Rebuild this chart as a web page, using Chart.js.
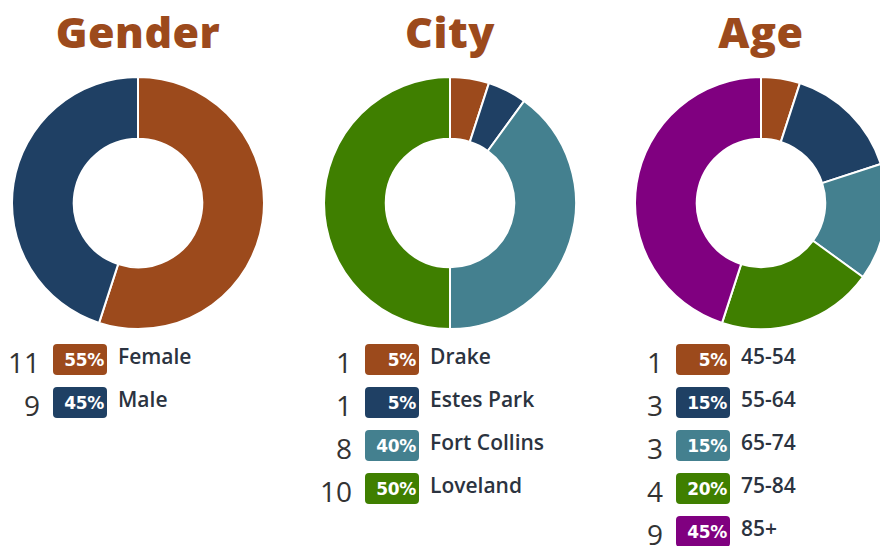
<!DOCTYPE html>
<html>
<head>
<meta charset="utf-8">
<script src="https://cdn.jsdelivr.net/npm/chart.js@4"></script>
<style>
  html, body { margin: 0; padding: 0; background: #fff; }
  body { width: 880px; height: 546px; overflow: hidden; position: relative; font-family: 'Open Sans', sans-serif; }
  .panel { position: absolute; top: 0; width: 311px; height: 546px; }
  .panel h2 {
    position: absolute; left: 0; width: 276px; top: 2px; margin: 0;
    text-align: center; font-size: 43px; font-weight: 800; color: #9c4a1c;
    letter-spacing: 0.5px;
  }
  .panel canvas { position: absolute; left: 11px; top: 76px; }
  .row { position: absolute; left: 0; height: 31px; }
  .count {
    position: absolute; left: 0; top: 3px; width: 40px; text-align: right;
    font-size: 28px; line-height: 31px; color: #333;
  }
  .badge {
    position: absolute; left: 53px; top: 0; width: 54px; height: 31px;
    border-radius: 4px; box-sizing: border-box; padding-right: 3px;
    text-align: right; color: #fff; font-family: 'DejaVu Sans', sans-serif;
    font-weight: 700; font-size: 17px; line-height: 32px; letter-spacing: -0.3px;
  }
  .label {
    position: absolute; left: 118px; top: -3px; white-space: nowrap;
    font-size: 21px; font-weight: 600; color: #2b3340; line-height: 31px;
  }
</style>
</head>
<body>

<script>
/* --- Data --- */
const COLORS = {
  brown: '#9c4a1c',
  navy: '#1f4064',
  teal: '#44808f',
  green: '#3f7f00',
  purple: '#800080',
};

const genderLabels = ['Female', 'Male'];
const genderCounts = [11, 9];
const genderColors = [COLORS.brown, COLORS.navy];

const cityLabels = ['Drake', 'Estes Park', 'Fort Collins', 'Loveland'];
const cityCounts = [1, 1, 8, 10];
const cityColors = [COLORS.brown, COLORS.navy, COLORS.teal, COLORS.green];

const ageLabels = ['45-54', '55-64', '65-74', '75-84', '85+'];
const ageCounts = [1, 3, 3, 4, 9];
const ageColors = [COLORS.brown, COLORS.navy, COLORS.teal, COLORS.green, COLORS.purple];

const panels = [
  { title: 'Gender', labels: genderLabels, counts: genderCounts, colors: genderColors, left: 0 },
  { title: 'City', labels: cityLabels, counts: cityCounts, colors: cityColors, left: 312 },
  { title: 'Age', labels: ageLabels, counts: ageCounts, colors: ageColors, left: 623 },
];

const ROW_TOP = 344;
const ROW_STEP = 43;

/* --- Build panels --- */
panels.forEach(p => {
  const div = document.createElement('div');
  div.className = 'panel';
  div.style.left = p.left + 'px';

  const h = document.createElement('h2');
  h.textContent = p.title;
  div.appendChild(h);

  const canvas = document.createElement('canvas');
  canvas.width = 254;
  canvas.height = 254;
  div.appendChild(canvas);

  const total = p.counts.reduce((a, b) => a + b, 0);
  p.labels.forEach((lab, i) => {
    const row = document.createElement('div');
    row.className = 'row';
    row.style.top = (ROW_TOP + i * ROW_STEP) + 'px';
    row.innerHTML =
      '<span class="count">' + p.counts[i] + '</span>' +
      '<span class="badge" style="background:' + p.colors[i] + '">' +
      Math.round(p.counts[i] / total * 100) + '%</span>' +
      '<span class="label">' + lab + '</span>';
    div.appendChild(row);
  });

  document.body.appendChild(div);

  new Chart(canvas, {
    type: 'doughnut',
    data: {
      labels: p.labels,
      datasets: [{
        data: p.counts,
        backgroundColor: p.colors,
        borderColor: '#ffffff',
        borderWidth: 2,
      }]
    },
    options: {
      responsive: false,
      animation: false,
      cutout: '51%',
      layout: { padding: 0 },
      plugins: {
        legend: { display: false },
        tooltip: { enabled: false },
      }
    }
  });
});
</script>
</body>
</html>
